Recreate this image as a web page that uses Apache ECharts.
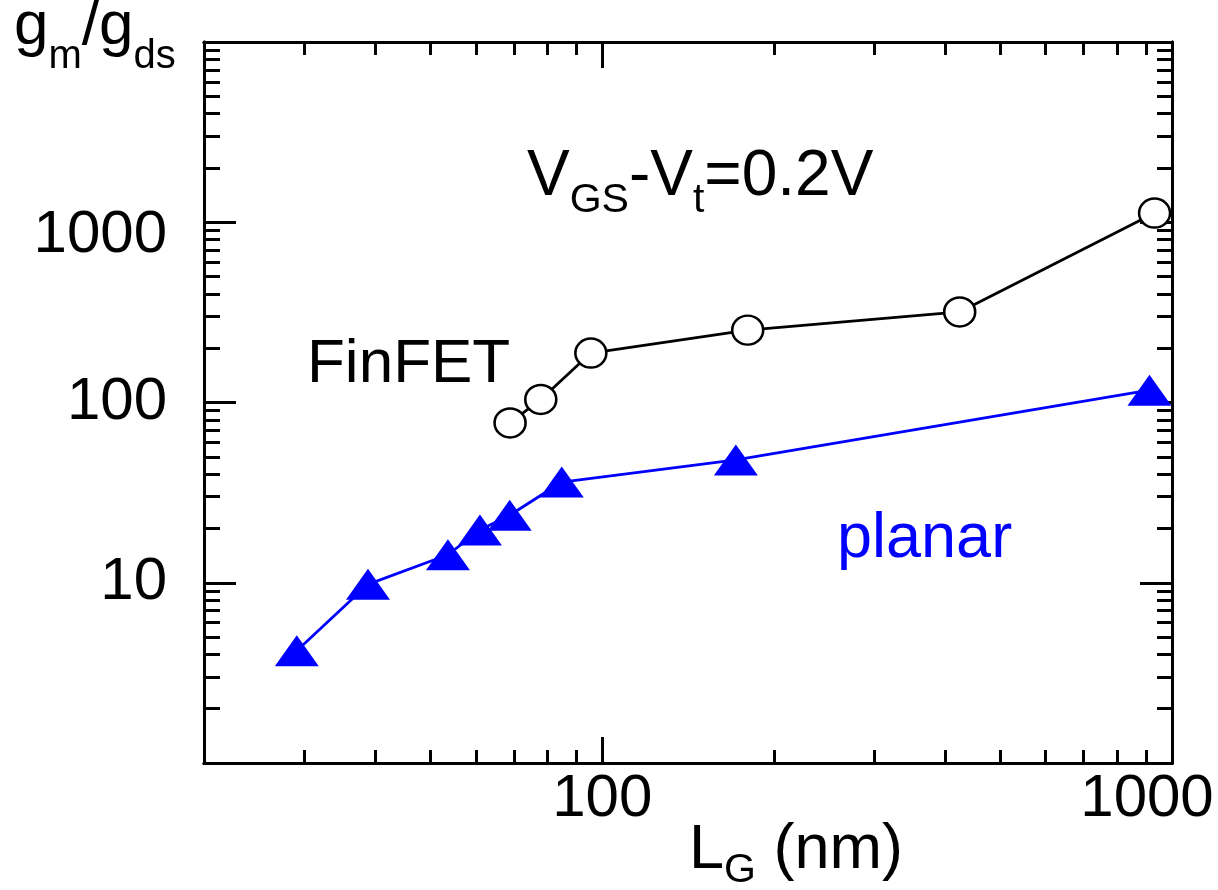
<!DOCTYPE html>
<html><head><meta charset="utf-8">
<script src="https://cdn.jsdelivr.net/npm/echarts@6/dist/echarts.min.js"></script>
<style>html,body{margin:0;padding:0;background:#fff}#c{width:1218px;height:890px}</style>
</head><body><div id="c"></div>
<script>
// ---- data ----
const finfetLg    = [68.9, 78.0, 95.5, 180, 424, 932];
const finfetRatio = [77, 104, 188, 252, 318, 1125];
const planarLg    = [29.1, 38.8, 53.6, 61.0, 68.8, 84.9, 171.6, 913];
const planarRatio = [4.2, 9.8, 14.3, 19.6, 23.7, 36.2, 48, 117];
const xMajorTicks = [100, 1000];
const xMinorTicks = [30, 40, 50, 60, 70, 80, 90, 200, 300, 400, 500, 600, 700, 800, 900];
const yMajorTicks = [10, 100, 1000];
const yMinorTicks = [2, 3, 4, 5, 6, 7, 8, 9, 20, 30, 40, 50, 60, 70, 80, 90,
                     200, 300, 400, 500, 600, 700, 800, 900, 2000, 3000, 4000, 5000, 6000, 7000, 8000, 9000];
const xRange = [20, 1000];
const yRange = [1, 10000];

const FONT = '"Liberation Sans", Arial, Helvetica, sans-serif';
const chart = echarts.init(document.getElementById('c'), null, {renderer: 'canvas'});

function axis(dir, pos, ticks, len, labels) {
  const isX = dir === 'x';
  const a = {
    type: 'log', logBase: 10,
    min: isX ? xRange[0] : yRange[0],
    max: isX ? xRange[1] : yRange[1],
    position: pos,
    axisLine: {show: true, lineStyle: {color: '#000', width: 3}},
    axisTick: {show: true, inside: true, length: len, customValues: ticks,
               lineStyle: {color: '#000', width: 3}},
    axisLabel: {show: false},
    splitLine: {show: false},
    minorTick: {show: false}
  };
  if (labels) {
    a.axisLabel = {
      show: true, customValues: labels,
      fontFamily: FONT, fontSize: 60, lineHeight: 60, color: '#000',
      margin: isX ? 6 : 37,
      formatter: function (v) {
        if (isX && Math.abs(v - 1000) < 1e-6) return '{r|1000}';
        if (!isX && Math.abs(v - 1000) < 1e-6) return '{d|1000}';
        return String(Math.round(v));
      },
      rich: {
        r: {fontFamily: FONT, fontSize: 60, lineHeight: 60, color: '#000', padding: [0, 50, 0, 0]},
        d: {fontFamily: FONT, fontSize: 60, lineHeight: 60, color: '#000', padding: [26, 0, 0, 0]}
      }
    };
  }
  return a;
}

const option = {
  animation: false,
  backgroundColor: '#fff',
  grid: {left: 204, right: 46, top: 42, bottom: 127, containLabel: false, outerBoundsMode: 'none'},
  xAxis: [
    axis('x', 'bottom', xMajorTicks, 26, xMajorTicks),
    axis('x', 'bottom', xMinorTicks, 13, null),
    axis('x', 'top', xMajorTicks, 26, null),
    axis('x', 'top', xMinorTicks, 13, null)
  ],
  yAxis: [
    axis('y', 'left', yMajorTicks, 32, yMajorTicks),
    axis('y', 'left', yMinorTicks, 16, null),
    axis('y', 'right', yMajorTicks, 32, null),
    axis('y', 'right', yMinorTicks, 15, null)
  ],
  series: [
    {
      name: 'planar', type: 'line', xAxisIndex: 0, yAxisIndex: 0,
      data: planarLg.map((x, i) => [x, planarRatio[i]]),
      symbol: 'triangle', symbolSize: [44, 31],
      lineStyle: {color: '#0000ff', width: 2.8},
      itemStyle: {color: '#0000ff', borderWidth: 0},
      clip: false, z: 3
    },
    {
      name: 'FinFET', type: 'line', xAxisIndex: 0, yAxisIndex: 0,
      data: finfetLg.map((x, i) => [x, finfetRatio[i]]),
      symbol: 'circle', symbolSize: [31, 29], showAllSymbol: true,
      lineStyle: {color: '#000', width: 2.8},
      itemStyle: {color: '#fff', borderColor: '#000', borderWidth: 2.5},
      clip: false, z: 4
    }
  ],
  graphic: [
    { // y axis title g_m/g_ds
      type: 'text', x: 14, y: 77, z: 10,
      style: {
        text: '{a|g}{b|m}{a|/g}{b|ds}', align: 'left', verticalAlign: 'bottom',
        rich: {
          a: {fontFamily: FONT, fontSize: 62, lineHeight: 62, fill: '#000', verticalAlign: 'bottom', padding: [0, 0, 19.5, 0]},
          b: {fontFamily: FONT, fontSize: 40, lineHeight: 40, fill: '#000', verticalAlign: 'bottom'}
        }
      }
    },
    { // condition label
      type: 'text', x: 527, y: 221, z: 10,
      style: {
        text: '{a|V}{b|GS}{a|-V}{b|t}{a|=0.2V}', align: 'left', verticalAlign: 'bottom',
        rich: {
          a: {fontFamily: FONT, fontSize: 64, lineHeight: 64, fill: '#000', verticalAlign: 'bottom', padding: [0, 0, 11.5, 0]},
          b: {fontFamily: FONT, fontSize: 41, lineHeight: 41, fill: '#000', verticalAlign: 'bottom'}
        }
      }
    },
    {
      type: 'text', x: 307, y: 395.5, z: 10,
      style: {text: 'FinFET', fontFamily: FONT, fontSize: 62, lineHeight: 62, fill: '#000', align: 'left', verticalAlign: 'bottom'}
    },
    {
      type: 'text', x: 837, y: 571, z: 10,
      style: {text: 'planar', fontFamily: FONT, fontSize: 63, lineHeight: 63, fill: '#0000ff', align: 'left', verticalAlign: 'bottom'}
    },
    { // x axis title L_G (nm)
      type: 'text', x: 689, y: 891, z: 10,
      style: {
        text: '{a|L}{b|G}{a| (nm)}', align: 'left', verticalAlign: 'bottom',
        rich: {
          a: {fontFamily: FONT, fontSize: 63, lineHeight: 63, fill: '#000', verticalAlign: 'bottom', padding: [0, 0, 9, 0]},
          b: {fontFamily: FONT, fontSize: 41, lineHeight: 41, fill: '#000', verticalAlign: 'bottom'}
        }
      }
    }
  ]
};
chart.setOption(option);
</script>
</body></html>
